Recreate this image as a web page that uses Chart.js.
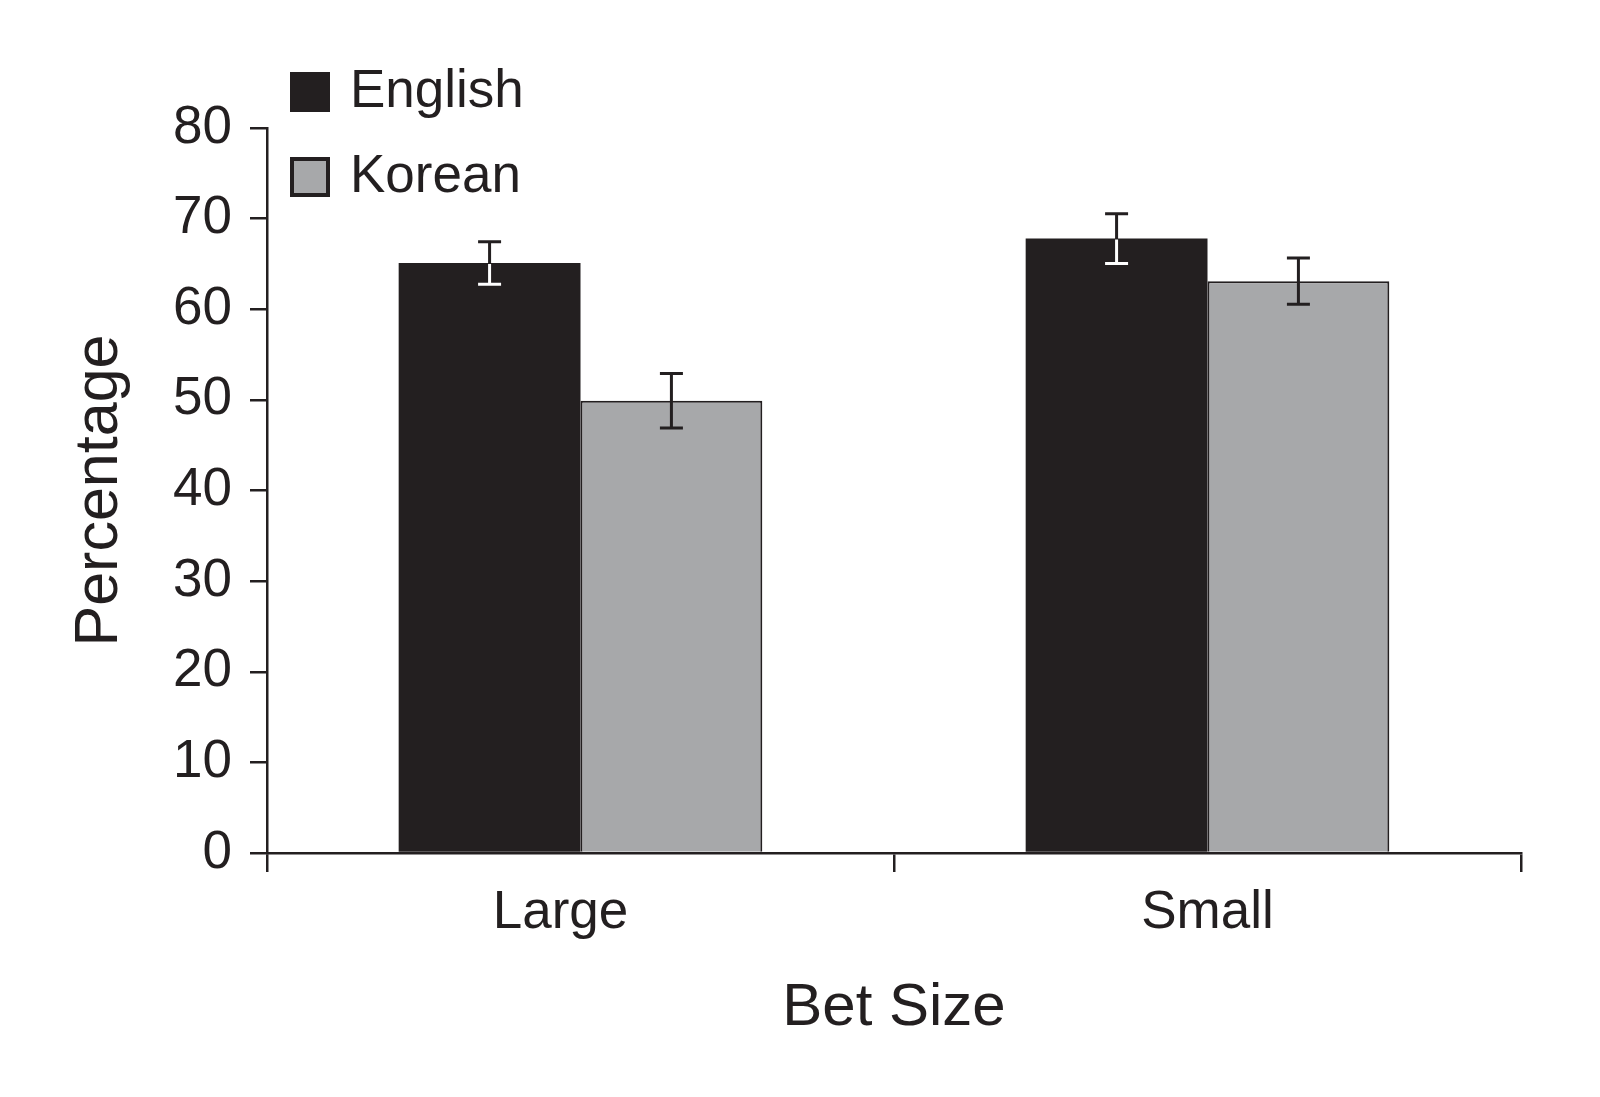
<!DOCTYPE html>
<html>
<head>
<meta charset="utf-8">
<script src="https://cdn.jsdelivr.net/npm/chart.js@4"></script>
<style>
  html, body { margin: 0; padding: 0; background: #ffffff; }
  #wrap { width: 1600px; height: 1097px; }
</style>
</head>
<body>
<div id="wrap"><canvas id="c" width="1600" height="1097"></canvas></div>
<script>
// ---- data ----
const categories = ["Large", "Small"];
const seriesNames = ["English", "Korean"];
const englishValues = [65.1, 67.8];
const koreanValues = [49.9, 63.1];
const englishErrors = [2.35, 2.75];
const koreanErrors = [3.0, 2.55];
const yTicks = [0, 10, 20, 30, 40, 50, 60, 70, 80];
const xTitle = "Bet Size";
const yTitle = "Percentage";

const INK = "#231f20";
const GREY = "#a7a8aa";
const FONT = '"Liberation Sans", Arial, Helvetica, sans-serif';

// error bars: black outside the bar, "inside" colour where it overlaps the bar
const errorBarPlugin = {
  id: "errorBars",
  afterDatasetsDraw(chart) {
    const ctx = chart.ctx;
    const yScale = chart.scales.y;
    chart.data.datasets.forEach((ds, di) => {
      const meta = chart.getDatasetMeta(di);
      meta.data.forEach((bar, i) => {
        const v = ds.data[i], e = ds.errors[i];
        const x = bar.x;
        const yHi = yScale.getPixelForValue(v + e);
        const yLo = yScale.getPixelForValue(v - e);
        const cap = 11.5;
        const drawBar = (color) => {
          ctx.strokeStyle = color;
          ctx.lineWidth = 3;
          ctx.lineCap = "butt";
          ctx.beginPath();
          ctx.moveTo(x, yHi); ctx.lineTo(x, yLo);
          ctx.moveTo(x - cap, yHi); ctx.lineTo(x + cap, yHi);
          ctx.moveTo(x - cap, yLo); ctx.lineTo(x + cap, yLo);
          ctx.stroke();
        };
        ctx.save();
        drawBar(INK);
        ctx.restore();
        if (ds.errorInside && ds.errorInside !== INK) {
          const half = bar.width / 2;
          ctx.save();
          ctx.beginPath();
          ctx.rect(x - half, bar.y + 1, bar.width, bar.base - bar.y);
          ctx.clip();
          drawBar(ds.errorInside);
          ctx.restore();
        }
      });
    });
  }
};

// the first category label sits a little left of its slot centre in the original
const labelNudgePlugin = {
  id: "labelNudge",
  beforeDraw(chart) {
    const items = chart.scales.x.getLabelItems();
    if (items && items[0] && items[0].options && items[0].options.translation) {
      items[0].options.translation[0] -= 20;
    }
  }
};

// legend drawn in top-left, from dataset labels/colours
const legendPlugin = {
  id: "customLegend",
  afterDraw(chart) {
    const ctx = chart.ctx;
    ctx.save();
    const rows = [
      { boxY: 72, textY: 107 },
      { boxY: 157, textY: 192 }
    ];
    chart.data.datasets.forEach((ds, i) => {
      const r = rows[i];
      const bx = 290, size = 40;
      ctx.fillStyle = ds.backgroundColor;
      ctx.fillRect(bx, r.boxY, size, size);
      if (ds.legendBorder) {
        ctx.strokeStyle = INK;
        ctx.lineWidth = 4;
        ctx.strokeRect(bx + 2, r.boxY + 2, size - 4, size - 4);
      }
      ctx.fillStyle = INK;
      ctx.font = "53px " + FONT;
      ctx.textBaseline = "alphabetic";
      ctx.textAlign = "left";
      ctx.fillText(ds.label, 350, r.textY);
    });
    ctx.restore();
  }
};

const chart = new Chart(document.getElementById("c"), {
  type: "bar",
  data: {
    labels: categories,
    datasets: [
      {
        label: seriesNames[0],
        data: englishValues,
        errors: englishErrors,
        errorInside: "#ffffff",
        backgroundColor: INK,
        borderColor: INK,
        borderWidth: 0,
        categoryPercentage: 0.58,
        barPercentage: 1.0
      },
      {
        label: seriesNames[1],
        data: koreanValues,
        errors: koreanErrors,
        errorInside: INK,
        legendBorder: true,
        backgroundColor: GREY,
        borderColor: INK,
        borderWidth: 2,
        categoryPercentage: 0.58,
        barPercentage: 1.0
      }
    ]
  },
  options: {
    responsive: false,
    devicePixelRatio: 1,
    animation: false,
    layout: { padding: { left: 0, top: 128, right: 79, bottom: 0 } },
    plugins: {
      legend: { display: false },
      tooltip: { enabled: false }
    },
    scales: {
      x: {
        type: "category",
        offset: true,
        grid: {
          display: true,
          offset: true,
          drawOnChartArea: false,
          drawTicks: true,
          tickLength: 19,
          color: INK,
          lineWidth: 2.5
        },
        border: { display: true, color: INK, width: 2.5 },
        ticks: {
          color: INK,
          font: { family: FONT, size: 53 },
          padding: 10,
          maxRotation: 0
        },
        title: {
          display: true,
          text: xTitle,
          color: INK,
          font: { family: FONT, size: 60 },
          padding: { top: 0, bottom: 53 }
        },
        afterFit(scale) { scale.height = 244; }
      },
      y: {
        min: 0,
        max: 80,
        afterBuildTicks(scale) { scale.ticks = yTicks.map(v => ({ value: v })); },
        grid: {
          display: true,
          drawOnChartArea: false,
          drawTicks: true,
          tickLength: 17,
          color: INK,
          lineWidth: 2.5
        },
        border: { display: true, color: INK, width: 2.5 },
        ticks: {
          color: INK,
          font: { family: FONT, size: 53 },
          padding: 18
        },
        title: {
          display: true,
          text: yTitle,
          color: INK,
          font: { family: FONT, size: 61 },
          padding: { top: 64, bottom: 0 }
        },
        afterFit(scale) { scale.width = 267; }
      }
    }
  },
  plugins: [labelNudgePlugin, errorBarPlugin, legendPlugin]
});
</script>
</body>
</html>
